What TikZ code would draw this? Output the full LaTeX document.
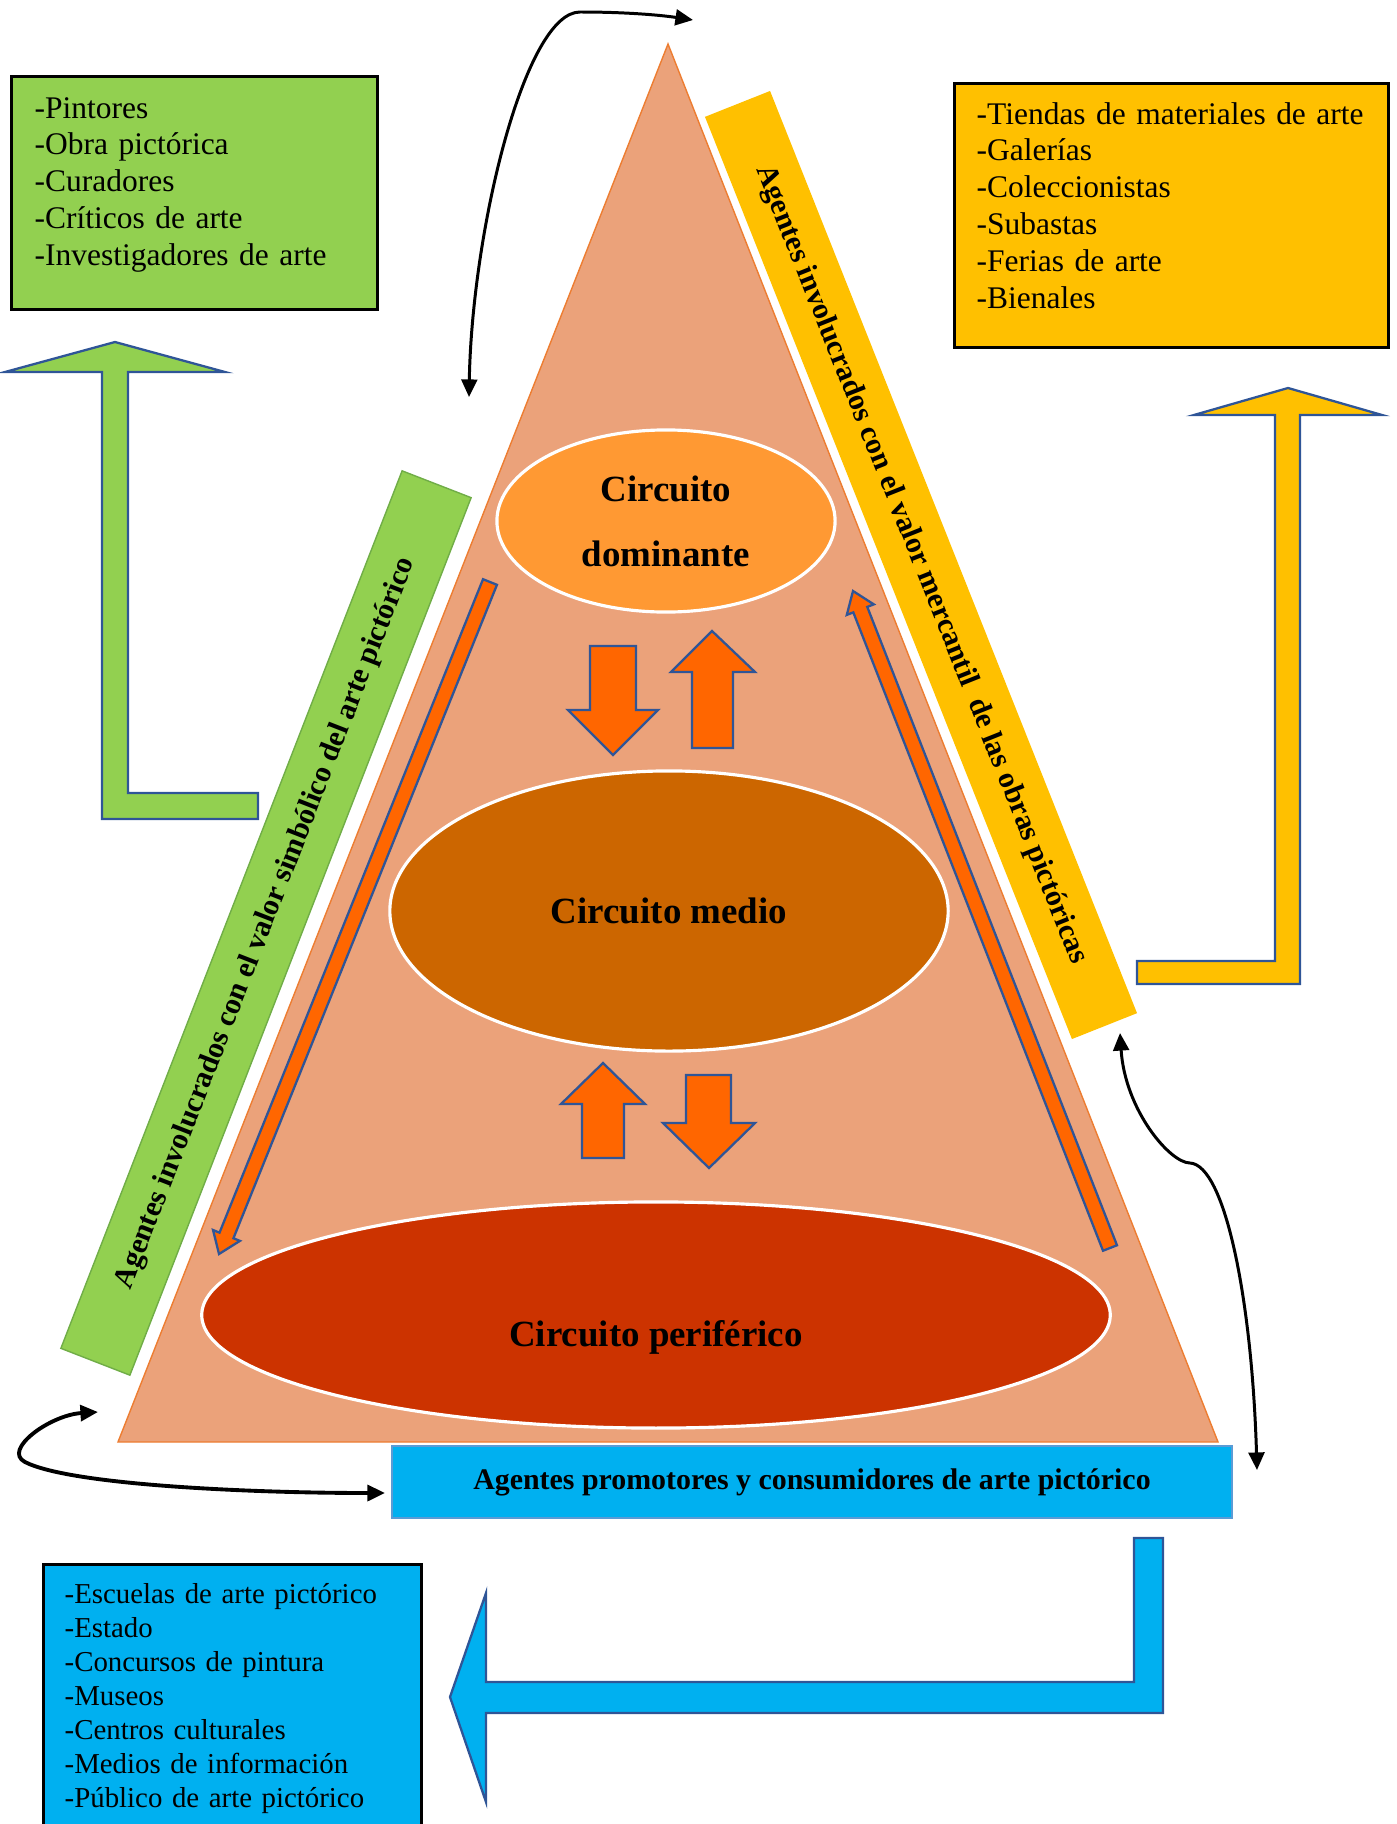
\documentclass[tikz,border=0pt]{standalone}
\usepackage{fontspec}
\setmainfont{Liberation Serif}
\usetikzlibrary{shapes.geometric,arrows.meta,calc}

\definecolor{simbgreen}{RGB}{146,208,80}
\definecolor{simbedge}{RGB}{112,173,71}
\definecolor{mercgold}{RGB}{255,192,0}
\definecolor{promoblue}{RGB}{0,176,240}
\definecolor{promoedge}{RGB}{91,155,213}
\definecolor{pyramid}{RGB}{235,162,122}
\definecolor{pyramidedge}{RGB}{237,125,49}
\definecolor{domcol}{RGB}{255,153,51}
\definecolor{medcol}{RGB}{204,102,0}
\definecolor{pericol}{RGB}{204,51,0}
\definecolor{flowcol}{RGB}{255,102,0}
\definecolor{arrowedge}{RGB}{47,85,151}

\tikzset{list box/.style={rectangle,draw=black,line width=0.85pt,inner sep=0pt},
  list text/.style={anchor=base west,align=left,inner sep=0pt,font=\fontsize{8.95}{10.5}\selectfont},
  circuit/.style={ellipse,draw=white,line width=0.9pt,inner sep=0pt,align=center,font=\fontsize{10.5}{18.5}\selectfont\bfseries},
  agent bar/.style={rectangle,inner sep=0pt,font=\fontsize{8.5}{10}\selectfont\bfseries},
  block/.style={fill=flowcol,draw=arrowedge,line width=0.65pt},
  bent/.style={draw=arrowedge,line width=0.65pt},
  link/.style={black,line width=0.85pt,>={Triangle[length=5pt,width=4.5pt]},<->}}

% flecha larga y delgada entre dos coordenadas
\newcommand{\slimarrow}[2]{%
  \coordinate (neck) at ($(#2)!2mm!(#1)$);
  \filldraw[block] ($(#1)!0.75mm!90:(#2)$) -- ($(neck)!0.75mm!-90:(#1)$)
    -- ($(neck)!1.45mm!-90:(#1)$) -- (#2) -- ($(neck)!1.45mm!90:(#1)$)
    -- ($(neck)!0.75mm!90:(#1)$) -- ($(#1)!0.75mm!-90:(#2)$) -- cycle;}

\begin{document}
\begin{tikzpicture}[x=0.01cm,y=-0.01cm]
\useasboundingbox (0,0) rectangle (1397,1824);

% piramide
\filldraw[fill=pyramid,draw=pyramidedge,line width=0.4pt] (668,44) -- (1218,1442) -- (118,1442) -- cycle;

% circuitos
\node[circuit,fill=domcol,minimum width=33.8mm,minimum height=18.2mm] (dom) at (666,521) {Circuito\\dominante};
\node[circuit,fill=medcol,minimum width=55.8mm,minimum height=28mm] (med) at (669,911) {Circuito medio};
\node[circuit,fill=pericol,minimum width=90.8mm,minimum height=22.6mm] (peri) at (656,1315) {\raisebox{-9pt}[0pt][0pt]{Circuito periférico}};

% flechas entre circuitos
\filldraw[block] (590,646) -- (636,646) -- (636,710) -- (658,710) -- (613,755) -- (568,710) -- (590,710) -- cycle;
\filldraw[block] (712,631) -- (755,672) -- (733,672) -- (733,748) -- (692,748) -- (692,672) -- (671,672) -- cycle;
\filldraw[block] (603,1063) -- (645,1104) -- (624,1104) -- (624,1158) -- (582,1158) -- (582,1104) -- (561,1104) -- cycle;
\filldraw[block] (686,1075) -- (731,1075) -- (731,1123) -- (755,1123) -- (709,1168) -- (663,1123) -- (686,1123) -- cycle;

% flechas largas
\coordinate (simb start) at (490,582);
\coordinate (simb end) at (219,1254);
\coordinate (merc start) at (1110,1248);
\coordinate (merc end) at (853,591);
\slimarrow{simb start}{simb end}
\slimarrow{merc start}{merc end}

% barras de agentes
\node[agent bar,fill=simbgreen,draw=simbedge,rotate=68.75,minimum width=94.1mm,minimum height=7.4mm] (simb) at (266,923) {Agentes involucrados con el valor simbólico del arte pictórico};
\node[agent bar,fill=mercgold,rotate=-68.3,minimum width=99.2mm,minimum height=7mm] (merc) at (921,565) {Agentes involucrados con el valor mercantil\ \ de las obras pictóricas};
\node[agent bar,fill=promoblue,draw=promoedge,line width=0.6pt,minimum width=83.9mm,minimum height=7.2mm] (promo) at (812,1482) {Agentes promotores y consumidores de arte pictórico};

% listas
\node[list box,fill=simbgreen,minimum width=36.5mm,minimum height=23.2mm] (simb box) at (194.5,193) {};
\node[list text,text width=34mm] (simb list) at (34,118) {-Pintores\\-Obra pictórica\\-Curadores\\-Críticos de arte\\-Investigadores de arte};
\node[list box,fill=mercgold,minimum width=43.3mm,minimum height=26.3mm] (merc box) at (1171.5,215.5) {};
\node[list text,text width=41mm] (merc list) at (976,124) {-Tiendas de materiales de arte\\-Galerías\\-Coleccionistas\\-Subastas\\-Ferias de arte\\-Bienales};
\node[list box,fill=promoblue,minimum width=37.7mm,minimum height=26.5mm] (promo box) at (232.5,1697.5) {};
\node[list text,text width=35mm,font=\fontsize{8.2}{9.67}\selectfont] (promo list) at (64,1603) {-Escuelas de arte pictórico\\-Estado\\-Concursos de pintura\\-Museos\\-Centros culturales\\-Medios de información\\-Público de arte pictórico};

% flechas acodadas
\filldraw[bent,fill=simbgreen] (115,342) -- (225,372) -- (128,372) -- (128,793) -- (258,793) -- (258,819) -- (102,819) -- (102,372) -- (5,372) -- cycle;
\filldraw[bent,fill=mercgold] (1288,388) -- (1382,415) -- (1300,415) -- (1300,984) -- (1137,984) -- (1137,961) -- (1275,961) -- (1275,415) -- (1194,415) -- cycle;
\filldraw[bent,fill=promoblue] (1134,1538) -- (1163,1538) -- (1163,1713) -- (486,1713) -- (486,1802) -- (450,1697) -- (486,1593) -- (486,1682) -- (1134,1682) -- cycle;

% enlaces
\coordinate (apex l) at (469,397);
\coordinate (apex r) at (693,20);
\coordinate (side t) at (1120,1033);
\coordinate (side b) at (1257,1470);
\coordinate (base l) at (98,1412);
\coordinate (base r) at (385,1493);
\draw[link] (apex l) .. controls (472,230) and (525,12) .. (580,12) .. controls (625,12) and (660,15) .. (apex r);
\draw[link] (side t) .. controls (1125,1110) and (1170,1163) .. (1190,1163) .. controls (1225,1165) and (1252,1300) .. (side b);
\draw[link,line width=1.1pt] (base l) .. controls (50,1415) and (2,1450) .. (25,1462) .. controls (70,1485) and (250,1493) .. (base r);
\end{tikzpicture}
\end{document}
